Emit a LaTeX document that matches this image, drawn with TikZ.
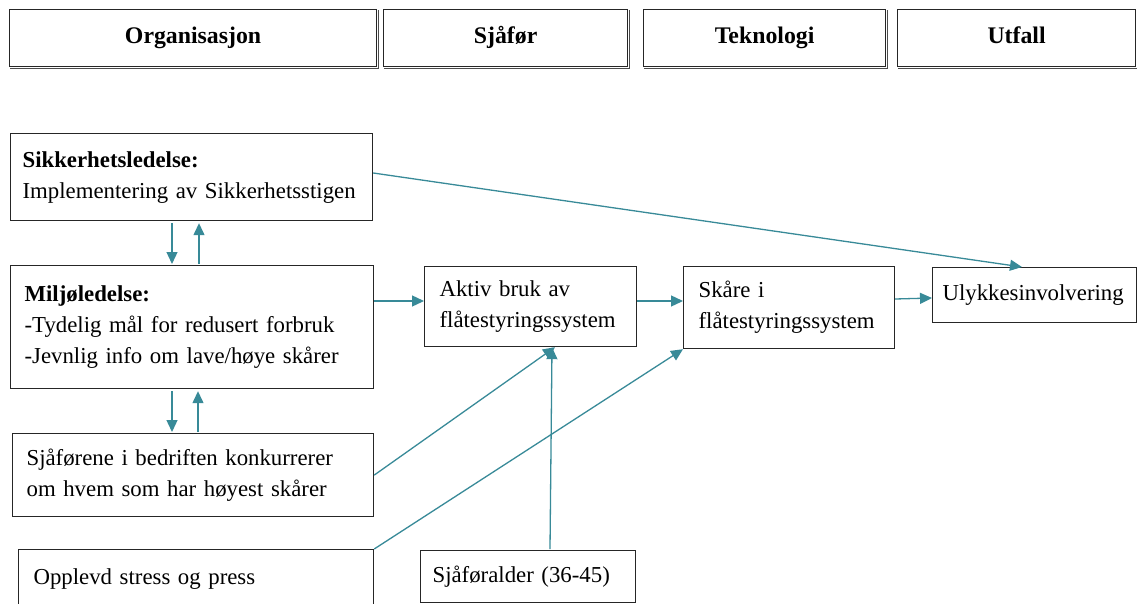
\documentclass[tikz,border=0pt]{standalone}
\usepackage{fontspec}
\setmainfont{Liberation Serif}
\usetikzlibrary{arrows.meta,calc}
\definecolor{tealc}{RGB}{56,138,152}
\begin{document}
\begin{tikzpicture}[x=1pt,y=-1pt,
 box/.style={draw=black!85, line width=1.2pt, anchor=north west, align=left, inner ysep=0pt, font=\fontsize{22.8}{31}\selectfont},
 hdr/.style={draw=black!85, line width=1.2pt, anchor=north west, align=center, inner sep=0pt, minimum height=57pt, text height=15pt, text depth=5pt, font=\fontsize{23.8}{25}\selectfont\bfseries},
 shadowline/.style={draw=black!70, line width=1.3pt},
 arr/.style={draw=tealc, line width=1.3pt, -{Triangle[length=12pt,width=11pt]}}]
\useasboundingbox (0,0) rectangle (1137,604);
% headers
\node[hdr, minimum width=367pt] (h1) at (9,9) {Organisasjon};
\node[hdr, minimum width=244pt] (h2) at (383,9) {Sjåfør};
\node[hdr, minimum width=242pt] (h3) at (643,9) {Teknologi};
\node[hdr, minimum width=238pt] (h4) at (897,9) {Utfall};
\foreach \h in {h1,h2,h3,h4}{
  \draw[shadowline] ($(\h.south west)+(1,1.5)$) -- ($(\h.south east)+(1.5,1.5)$) -- ($(\h.north east)+(1.5,1)$);
}
% boxes
\node[box, minimum height=87pt, text width=338pt, inner xsep=12pt] (sik) at (10,133)
  {\textbf{Sikkerhetsledelse:}\\Implementering av Sikkerhetsstigen};
\node[box, minimum height=123pt, text width=335pt, inner xsep=14pt] (milj) at (10,265)
  {\textbf{Miljøledelse:}\\-Tydelig mål for redusert forbruk\\-Jevnlig info om lave/høye skårer};
\node[box, minimum height=83pt, text width=333pt, inner xsep=14pt] (sjaf) at (12,433)
  {Sjåførene i bedriften konkurrerer\\om hvem som har høyest skårer};
\node[box, minimum height=58pt, text width=325pt, inner xsep=15pt] (oppl) at (18,549)
  {Opplevd stress og press};
\node[box, minimum height=80pt, text width=182pt, inner xsep=15pt] (akt) at (424,266)
  {Aktiv bruk av\\flåtestyringssystem};
\node[box, minimum height=82pt, text width=181pt, inner xsep=15pt] (skar) at (683,266)
  {Skåre i\\flåtestyringssystem};
\node[box, minimum height=55pt, text width=184pt, inner xsep=10pt] (ulyk) at (932,267)
  {Ulykkesinvolvering};
\node[box, minimum height=52pt, text width=191pt, inner xsep=12pt] (alder) at (420,550)
  {Sjåføralder (36-45)};
% connectors
\draw[arr] ($(sik.north east)+(0,40)$) -- ($(ulyk.north west)+(90,0)$);
\draw[arr] ($(sik.south west)+(162,2)$) -- ($(milj.north west)+(162,-1)$);
\draw[arr] ($(milj.north west)+(189,-1)$) -- ($(sik.south west)+(189,2)$);
\draw[arr] ($(milj.south west)+(162,2)$) -- ($(sjaf.north west)+(160,-1)$);
\draw[arr] ($(sjaf.north west)+(186,-1)$) -- ($(milj.south west)+(188,2)$);
\draw[arr] ($(milj.north east)+(0,36)$) -- ($(akt.north west)+(0,35)$);
\draw[arr] ($(akt.north east)+(0,35)$) -- ($(skar.north west)+(0,35)$);
\draw[arr] ($(skar.north east)+(0,33)$) -- ($(ulyk.north west)+(0,31)$);
\draw[arr] (sjaf.east) -- ($(akt.south west)+(131,0)$);
\draw[arr] (oppl.north east) -- (skar.south west);
\draw[arr] ($(alder.north west)+(130,-1)$) -- ($(akt.south west)+(128,0)$);
\end{tikzpicture}
\end{document}
